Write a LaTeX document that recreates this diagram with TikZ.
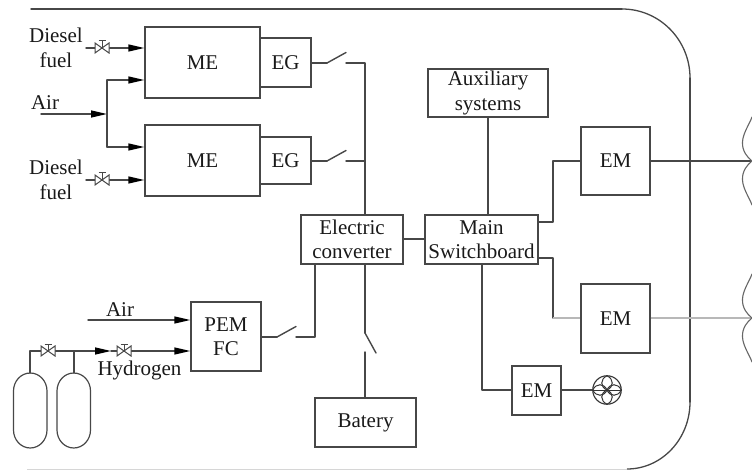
\documentclass[tikz,border=0pt]{standalone}
\usepackage{fontspec}
\setmainfont{Liberation Serif}
\usetikzlibrary{arrows.meta,calc}
\tikzset{
  x=1pt,y=-1pt,
  wire/.style={line width=1.4pt,draw=black!72,line cap=round,line join=round},
  pale/.style={line width=1.3pt,draw=black!28},
  arr/.style={wire,-{Triangle[length=16pt,width=7pt,black]}},
  box/.style={draw=black!72,line width=1.4pt,inner sep=0pt,align=center,font=\fontsize{21}{24.5}\selectfont,text=black!90},
  lab/.style={inner sep=0pt,align=center,font=\fontsize{21}{24.5}\selectfont,text=black!90},
  valve/.pic={
    \draw[line width=1pt,draw=black!72,fill=white] (-7,-5) -- (7,5) -- (7,-5) -- (-7,5) -- cycle;
    \draw[line width=1pt,draw=black!72] (0,0) -- (0,-7) (-3.5,-7) -- (3.5,-7);
  }
}
\begin{document}
\begin{tikzpicture}
\useasboundingbox (0,0) rectangle (752,470);
% hull
\draw[wire] (31,9) -- (622,9);
\draw[line width=1.3pt,draw=black!72] (622,9) arc[start angle=90,end angle=0,x radius=68,y radius=-69];
\draw[wire] (690,78) -- (690,402);
\draw[line width=1.3pt,draw=black!72] (690,402) arc[start angle=0,end angle=-90,x radius=63,y radius=-67];
\draw[line width=1pt,draw=black!16] (627,469) -- (27,469);
% boxes
\node[box,minimum width=115,minimum height=71] (ME1) at (202.5,62.5) {ME};
\node[box,minimum width=51,minimum height=49] (EG1) at (285.5,62.5) {EG};
\node[box,minimum width=115,minimum height=71] (ME2) at (202.5,160.5) {ME};
\node[box,minimum width=51,minimum height=47] (EG2) at (285.5,160.5) {EG};
\node[box,minimum width=102,minimum height=49] (EC) at (352,239.5) {Electric\\converter};
\node[box,minimum width=113,minimum height=49] (MS) at (481.5,239.5) {Main\\Switchboard};
\node[box,minimum width=120,minimum height=48] (AUX) at (488,93) {Auxiliary\\systems};
\node[box,minimum width=69,minimum height=68] (EM1) at (615.5,161) {EM};
\node[box,minimum width=69,minimum height=69] (EM2) at (615.5,318.5) {EM};
\node[box,minimum width=49,minimum height=49] (EM3) at (536.5,390.5) {EM};
\node[box,minimum width=101,minimum height=49] (BAT) at (365.5,422.5) {Batery};
\node[box,minimum width=70,minimum height=69] (PEM) at (226,336.5) {PEM\\FC};
% tanks
\draw[wire,line width=1.2pt] (13.5,391) arc[start angle=180,end angle=0,x radius=16.75,y radius=-18] -- (47,430) arc[start angle=0,end angle=-180,x radius=16.75,y radius=-18] -- cycle;
\draw[wire,line width=1.2pt] (57,391) arc[start angle=180,end angle=0,x radius=16.75,y radius=-18] -- (90.5,430) arc[start angle=0,end angle=-180,x radius=16.75,y radius=-18] -- cycle;
% labels
\node[lab] (LD1) at (56,48) {Diesel\\fuel};
\node[lab] (LD2) at (56,180) {Diesel\\fuel};
\node[lab,anchor=base] (LA1) at (45,110) {Air};
\node[lab,anchor=base] (LA2) at (120,316.5) {Air};
\node[lab,anchor=base] (LH) at (139.5,375) {Hydrogen};
% coordinates
\coordinate (d1) at (86,48);
\coordinate (v1) at (102,48);
\coordinate (d2) at (86,180);
\coordinate (v2) at (102,180);
\coordinate (a0) at (41,114);
\coordinate (aj) at (107,114);
\coordinate (a1) at (107,80);
\coordinate (a2) at (107,147);
\coordinate (a3) at (88,320);
\coordinate (t1) at (30,373);
\coordinate (t2) at (74,373);
\coordinate (h0) at (30,351);
\coordinate (h1) at (74,351);
\coordinate (h2) at (111,351);
\coordinate (v3) at (48,351);
\coordinate (v4) at (124,351);
\coordinate (bus) at (365,161);
% engine feeds
\draw[wire] (d1) -- (v1);
\draw[arr] (v1) -- (ME1.west |- v1);
\draw[wire] (d2) -- (v2);
\draw[arr] (v2) -- (ME2.west |- v2);
\draw[arr] (a0) -- (aj);
\draw[wire] (a1) -- (a2);
\draw[arr] (a1) -- (ME1.west |- a1);
\draw[arr] (a2) -- (ME2.west |- a2);
\pic at (v1) {valve};
\pic at (v2) {valve};
% fuel cell feeds
\draw[arr] (a3) -- (PEM.west |- a3);
\draw[wire] (t1) -- (h0) -- (v3);
\draw[wire] (t2) -- (h1);
\draw[arr] (v3) -- (h2);
\draw[wire] (h2) -- (v4);
\draw[arr] (v4) -- (PEM.west |- v4);
\pic at (v3) {valve};
\pic at (v4) {valve};
% generator switches
\draw[wire] (EG1.east |- 0,63) -- (327,63);
\draw[wire] (327,63) -- ++(19,-10.5);
\draw[wire] (346,63) -| (EC.north -| bus);
\draw[wire] (EG2.east |- 0,161) -- (327,161);
\draw[wire] (327,161) -- ++(19,-10.5);
\draw[wire] (346,161) -- (bus);
\draw[wire] (PEM.east |- 0,337) -- (277,337);
\draw[wire] (277,337) -- ++(19,-10.5);
\draw[wire] (296,337) -| (EC.south -| 315,0);
% battery
\draw[wire] (EC.south -| bus) -- (365,333);
\draw[wire] (365,333) -- (376,353);
\draw[wire] (365,352) -- (BAT.north -| bus);
% switchboard
\draw[wire] (EC.east |- 0,239) -- (MS.west |- 0,239);
\draw[wire] (AUX.south) -- (AUX.south |- MS.north);
\draw[wire] (MS.east |- 0,222) -- (553,222) -- (553,161) -- (EM1.west |- 0,161);
\draw[wire] (MS.east |- 0,258) -- (553,258) -- (553,318);
\draw[pale] (553,318) -- (EM2.west |- 0,318);
\draw[wire] (MS.south -| 482,0) -- (482,390) -- (EM3.west |- 0,390);
% propellers
\coordinate (p1) at (752,161);
\coordinate (p2) at (752,318);
\draw[wire] (EM1.east |- p1) -- (p1);
\draw[pale] (EM2.east |- p2) -- (p2);
\foreach \h in {p1,p2}{
  \draw[wire,line width=1.1pt,draw=black!60] (\h) .. controls ($(\h)+(-5,-4)$) and ($(\h)+(-10,-10)$) .. ($(\h)+(-9.5,-19)$) .. controls ($(\h)+(-9,-28)$) and ($(\h)+(-3,-36)$) .. ($(\h)+(0,-44)$);
  \draw[wire,line width=1.1pt,draw=black!60] (\h) .. controls ($(\h)+(-5,4)$) and ($(\h)+(-10,10)$) .. ($(\h)+(-9.5,19)$) .. controls ($(\h)+(-9,28)$) and ($(\h)+(-3,36)$) .. ($(\h)+(0,44)$);
}
% small propeller
\coordinate (fan) at (607,390);
\node[draw=black!80,line width=1.1pt,circle,minimum size=28.5,inner sep=0pt] (FAN) at (fan) {};
\draw[wire] (EM3.east |- fan) -- (FAN.west);
\draw[line width=1pt,draw=black!80] (FAN.west) -- (FAN.east);
\foreach \a in {0,90,180,270}{
  \draw[line width=1pt,draw=black!80,shift={(fan)},rotate=\a] (0,0) .. controls (3,-7) and (11,-7) .. (14.2,0) .. controls (11,7) and (3,7) .. (0,0);
}
\end{tikzpicture}
\end{document}
